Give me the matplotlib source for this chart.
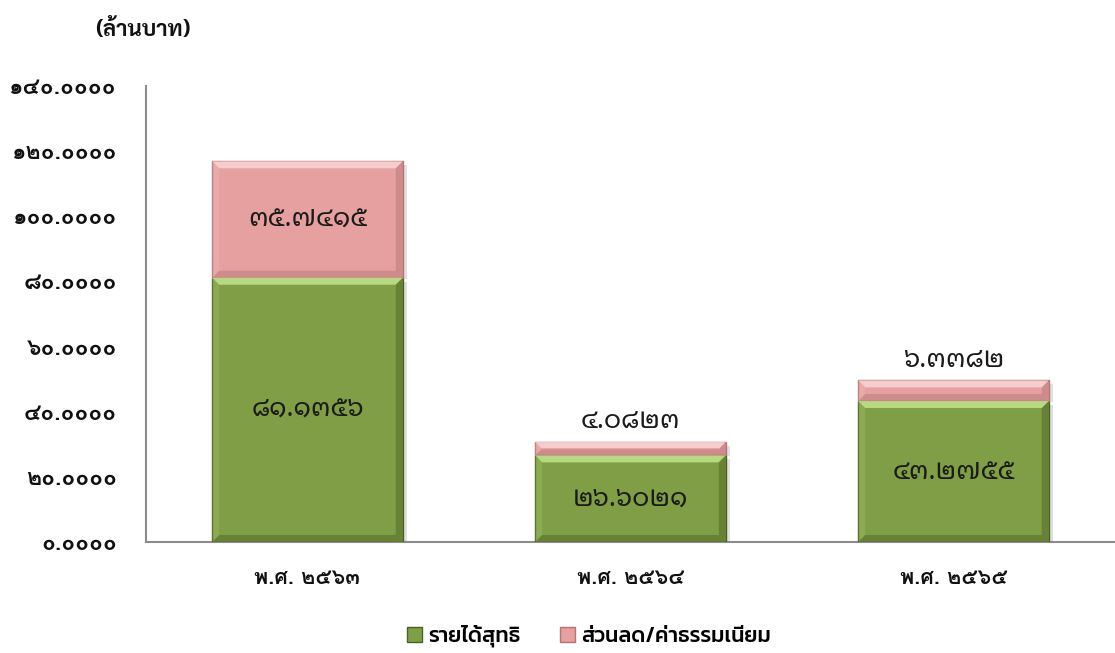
import matplotlib
matplotlib.use("Agg")
import matplotlib.pyplot as plt
from matplotlib.patches import Polygon, Patch
import numpy as np

categories = ["พ.ศ. ๒๕๖๓", "พ.ศ. ๒๕๖๔", "พ.ศ. ๒๕๖๕"]
net_income = [81.1356, 26.6021, 43.2755]
discount_fee = [35.7415, 4.0823, 6.3382]
series_names = ["รายได้สุทธิ", "ส่วนลด/ค่าธรรมเนียม"]
yticks = [0, 20, 40, 60, 80, 100, 120, 140]
unit_label = "(ล้านบาท)"

THAI_DIG = str.maketrans("0123456789", "๐๑๒๓๔๕๖๗๘๙")

def thai(s):
    return s.translate(THAI_DIG)

FONT = ["Loma", "DejaVu Sans"]
LBL_FONT = ["Noto Sans Thai Looped", "Loma", "DejaVu Sans"]
TITLE_FONT = ["Sarabun", "Loma", "DejaVu Sans"]
LEG_FONT = ["Kanit", "Noto Sans Thai", "DejaVu Sans"]

GREEN = "#7F9E45"
GREEN_HI = "#BCDC86"
GREEN_DK = "#4A6224"
PINK = "#E5A09F"
PINK_HI = "#F8CFCF"
PINK_DK = "#B07574"

fig = plt.figure(figsize=(11.15, 6.53), dpi=100)
ax = fig.add_axes([146/1115, 1-542/653, (1115-146)/1115, (542-86)/653])

x = np.arange(len(categories))
w = 0.59
b1 = ax.bar(x, net_income, w, color=GREEN, edgecolor=GREEN_DK, linewidth=1.0, zorder=3)
b2 = ax.bar(x, discount_fee, w, bottom=net_income, color=PINK, edgecolor=PINK_DK,
            linewidth=1.0, zorder=3)

ax.set_xlim(-0.5, 2.5)
ax.set_ylim(0, 140)

fig.canvas.draw()
inv = ax.transData.inverted()

def bevel(rect, hi, dk, px=7):
    x0, y0 = rect.get_x(), rect.get_y()
    x1, y1 = x0 + rect.get_width(), y0 + rect.get_height()
    (X0, Y0) = ax.transData.transform((x0, y0))
    (X1, Y1) = ax.transData.transform((x1, y1))
    p = min(px, (Y1 - Y0) / 2.2)
    def d(pts):
        return inv.transform(np.array(pts))
    top = d([(X0, Y1), (X1, Y1), (X1 - p, Y1 - p), (X0 + p, Y1 - p)])
    left = d([(X0, Y0), (X0, Y1), (X0 + p, Y1 - p), (X0 + p, Y0 + p)])
    right = d([(X1, Y0), (X1, Y1), (X1 - p, Y1 - p), (X1 - p, Y0 + p)])
    bot = d([(X0, Y0), (X1, Y0), (X1 - p, Y0 + p), (X0 + p, Y0 + p)])
    ax.add_patch(Polygon(top, closed=True, facecolor=hi, edgecolor="none", alpha=0.95, zorder=4))
    ax.add_patch(Polygon(left, closed=True, facecolor=hi, edgecolor="none", alpha=0.2, zorder=4))
    ax.add_patch(Polygon(right, closed=True, facecolor=dk, edgecolor="none", alpha=0.45, zorder=4))
    ax.add_patch(Polygon(bot, closed=True, facecolor=dk, edgecolor="none", alpha=0.45, zorder=4))
    sh = d([(X1, Y0 - 1), (X1 + 4, Y0 - 1), (X1 + 4, Y1 - 4), (X1, Y1 - 4)])
    ax.add_patch(Polygon(sh, closed=True, facecolor="#000000", edgecolor="none", alpha=0.12, zorder=2))

for r in b1:
    bevel(r, GREEN_HI, GREEN_DK)
for r in b2:
    bevel(r, PINK_HI, PINK_DK)

LBL = 19
for i in range(len(categories)):
    ax.text(x[i], net_income[i] / 2, thai(f"{net_income[i]:.4f}"), ha="center", va="center",
            fontsize=LBL, family=LBL_FONT, color="#1a1a1a", zorder=6)
    if discount_fee[i] > 15:
        ax.text(x[i], net_income[i] + discount_fee[i] / 2, thai(f"{discount_fee[i]:.4f}"),
                ha="center", va="center", fontsize=LBL, family=LBL_FONT, color="#1a1a1a", zorder=6)
    else:
        ax.annotate(thai(f"{discount_fee[i]:.4f}"), (x[i], net_income[i] + discount_fee[i]),
                    xytext=(0, 15), textcoords="offset points", ha="center", va="center",
                    fontsize=LBL, family=LBL_FONT, color="#1a1a1a", zorder=6)

ax.set_yticks(yticks)
ax.set_yticklabels([thai(f"{v:.4f}") for v in yticks], family=FONT, fontsize=16.5,
                   fontweight="bold", color="#111111")
ax.set_xticks(x)
ax.set_xticklabels(categories, family=FONT, fontsize=15.5, fontweight="bold", color="#111111")
ax.tick_params(axis="y", length=0, pad=21)
ax.tick_params(axis="x", length=0, pad=19)

for s in ["top", "right"]:
    ax.spines[s].set_visible(False)
for s in ["left", "bottom"]:
    ax.spines[s].set_color("#8c8c8c")
    ax.spines[s].set_linewidth(1.5)

fig.text(95/1115, 1-30/653, unit_label, family=TITLE_FONT, fontsize=16, fontweight="bold",
         ha="left", va="center", color="#111111")

handles = [Patch(facecolor=GREEN, edgecolor=GREEN_DK), Patch(facecolor=PINK, edgecolor=PINK_DK)]
leg = fig.legend(handles, series_names, loc="center", bbox_to_anchor=(589/1115, 1-636/653),
                 ncol=2, frameon=False, prop={"family": LEG_FONT, "size": 15.5, "weight": 500},
                 handlelength=0.7, handleheight=0.7, handletextpad=0.3, columnspacing=1.8)

fig.savefig("out.png", dpi=100)
